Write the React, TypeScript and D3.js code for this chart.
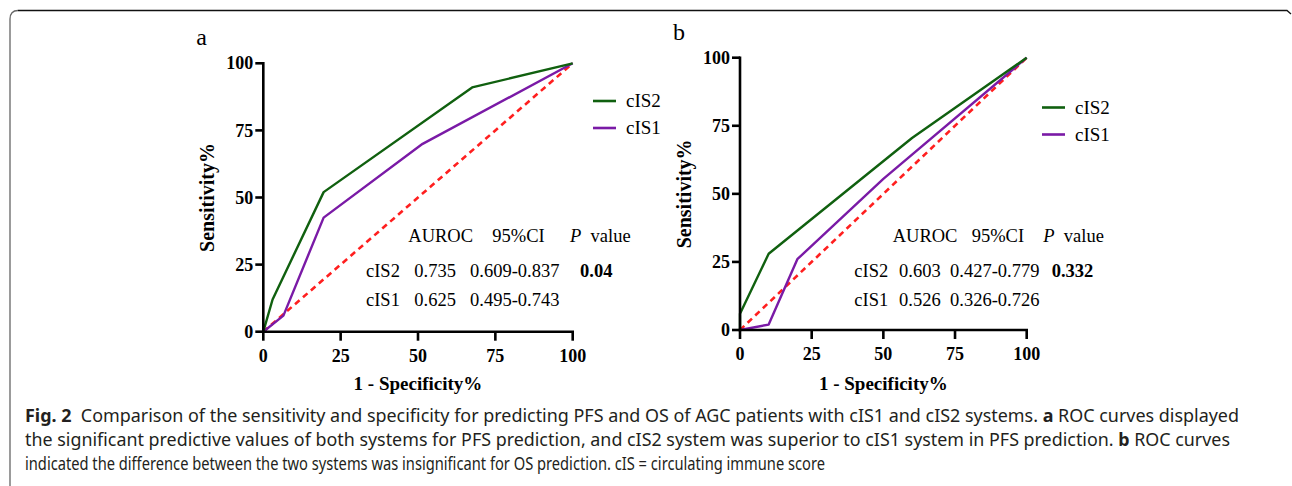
import * as d3 from 'd3'

// ── data ──
const xTicks = [0, 25, 50, 75, 100]
const yTicks = [0, 25, 50, 75, 100]
const seriesNames = ['cIS2', 'cIS1']

// panel a (PFS)
const aCis2X = [0, 3, 19.5, 67.5, 100]
const aCis2Y = [0, 12, 52, 91, 100]
const aCis1X = [0, 6.5, 19.5, 51.5, 100]
const aCis1Y = [0, 6, 42.5, 70, 100]
const aRows = [
  ['cIS2', '0.735', '0.609-0.837', '0.04'],
  ['cIS1', '0.625', '0.495-0.743', ''],
]

// panel b (OS)
const bCis2X = [0, 0, 10, 60, 100]
const bCis2Y = [0, 6, 28, 70.5, 100]
const bCis1X = [0, 10, 20, 50, 100]
const bCis1Y = [0, 2, 26, 55.5, 100]
const bRows = [
  ['cIS2', '0.603', '0.427-0.779', '0.332'],
  ['cIS1', '0.526', '0.326-0.726', ''],
]

const refX = [0, 100]
const refY = [0, 100]

const captionLines = [
  [['Fig. 2', true], ['  Comparison of the sensitivity and specificity for predicting PFS and OS of AGC patients with cIS1 and cIS2 systems. ', false], ['a', true], [' ROC curves displayed', false]],
  [['the significant predictive values of both systems for PFS prediction, and cIS2 system was superior to cIS1 system in PFS prediction. ', false], ['b', true], [' ROC curves', false]],
  [['indicated the difference between the two systems was insignificant for OS prediction. cIS = circulating immune score', false]],
] as [string, boolean][][]

const GREEN = '#10600f'
const PURPLE = '#7a1aa6'
const RED = '#ff1f1f'
const SERIF = '"Liberation Serif", "Times New Roman", serif'
const SANS = '"Noto Sans", "Open Sans", sans-serif'

type PanelProps = {
  label: string
  left: number; right: number; top: number; bottom: number
  cis2: [number[], number[]]
  cis1: [number[], number[]]
  rows: string[][]
  legend: { x: number; y: number }
  cols: { name: number; auroc: number; ci: number; p: number; hAuroc: number; hCi: number; hP: number }
  tableY: [number, number, number]
}

function Panel(p: PanelProps) {
  const x = d3.scaleLinear().domain([0, 100]).range([p.left, p.right])
  const y = d3.scaleLinear().domain([0, 100]).range([p.bottom, p.top])
  const line = d3.line<[number, number]>().x(d => x(d[0])).y(d => y(d[1]))
  const zip = (xs: number[], ys: number[]) => xs.map((v, i) => [v, ys[i]] as [number, number])
  const cols = [GREEN, PURPLE]
  return (
    <g>
      <text x={p.left - 67} y={p.top - 18} fontFamily={SERIF} fontSize={24}>{p.label}</text>

      {/* curves */}
      <path d={line(zip(refX, refY)) || ''} fill="none" stroke={RED} strokeWidth={2.6} strokeDasharray="6,4.5" />
      <path d={line(zip(p.cis1[0], p.cis1[1])) || ''} fill="none" stroke={PURPLE} strokeWidth={2.4} strokeLinejoin="round" />
      <path d={line(zip(p.cis2[0], p.cis2[1])) || ''} fill="none" stroke={GREEN} strokeWidth={2.4} strokeLinejoin="round" />

      {/* axes */}
      <g stroke="#000" strokeWidth={2.6}>
        <line x1={p.left} x2={p.left} y1={p.top - 1.3} y2={p.bottom + 1.3} />
        <line x1={p.left - 1.3} x2={p.right + 1.3} y1={p.bottom} y2={p.bottom} />
        {yTicks.map(t => <line key={'y' + t} x1={p.left - 8} x2={p.left} y1={y(t)} y2={y(t)} />)}
        {xTicks.map(t => <line key={'x' + t} x1={x(t)} x2={x(t)} y1={p.bottom} y2={p.bottom + 9} />)}
      </g>
      <g fontFamily={SERIF} fontWeight="bold" fontSize={18}>
        {yTicks.map(t => (
          <text key={'yl' + t} x={p.left - 10} y={y(t)} dy="0.34em" textAnchor="end">{t}</text>
        ))}
        {xTicks.map(t => (
          <text key={'xl' + t} x={x(t)} y={p.bottom + 30} textAnchor="middle">{t}</text>
        ))}
      </g>
      <text x={(p.left + p.right) / 2} y={390} textAnchor="middle" fontFamily={SERIF} fontWeight="bold" fontSize={19}>1 - Specificity%</text>
      <text transform={`translate(${p.left - 49},${(p.top + p.bottom) / 2}) rotate(-90)`} textAnchor="middle"
        fontFamily={SERIF} fontWeight="bold" fontSize={20}>Sensitivity%</text>

      {/* legend */}
      {seriesNames.map((n, i) => (
        <g key={n}>
          <line x1={p.legend.x} x2={p.legend.x + 23} y1={p.legend.y + i * 27} y2={p.legend.y + i * 27} stroke={cols[i]} strokeWidth={2.6} />
          <text x={p.legend.x + 33} y={p.legend.y + i * 27} dy="0.33em" fontFamily={SERIF} fontSize={19}>{n}</text>
        </g>
      ))}

      {/* AUROC table */}
      <g fontFamily={SERIF} fontSize={18.5}>
        <text x={p.left + p.cols.hAuroc} y={p.tableY[0]}>AUROC</text>
        <text x={p.left + p.cols.hCi} y={p.tableY[0]}>95%CI</text>
        <text x={p.left + p.cols.hP} y={p.tableY[0]}><tspan fontStyle="italic">P</tspan>{'\u00a0\u00a0value'}</text>
        {p.rows.map((r, i) => (
          <g key={r[0]}>
            <text x={p.left + p.cols.name} y={p.tableY[i + 1]}>{r[0]}</text>
            <text x={p.left + p.cols.auroc} y={p.tableY[i + 1]}>{r[1]}</text>
            <text x={p.left + p.cols.ci} y={p.tableY[i + 1]}>{r[2]}</text>
            <text x={p.left + p.cols.p} y={p.tableY[i + 1]} fontWeight="bold">{r[3]}</text>
          </g>
        ))}
      </g>
    </g>
  )
}

export default function App() {
  const lineW = [1214, 1205, 800]
  return (
    <svg width={1292} height={486} style={{ position: 'absolute', left: 0, top: 0, background: '#fff' }}>
      {/* frame */}
      <path d="M 18 10.5 L 1287 10.5 L 1291 14" fill="none" stroke="#111" strokeWidth={1.3} />
      <path d="M 10 488 L 10 19 Q 10 10.5 18 10.5" fill="none" stroke="#666" strokeWidth={1.3} />

      <Panel label="a" left={263.3} right={572.7} top={63.3} bottom={331.7}
        cis2={[aCis2X, aCis2Y]} cis1={[aCis1X, aCis1Y]} rows={aRows}
        legend={{ x: 593, y: 101 }}
        cols={{ name: 102.7, auroc: 151, ci: 206.7, p: 316.7, hAuroc: 145, hCi: 229, hP: 306.7 }}
        tableY={[241.7, 276.7, 305.7]} />
      <Panel label="b" left={740} right={1026.7} top={57.7} bottom={330}
        cis2={[bCis2X, bCis2Y]} cis1={[bCis1X, bCis1Y]} rows={bRows}
        legend={{ x: 1042, y: 107.5 }}
        cols={{ name: 114.3, auroc: 159, ci: 210, p: 311.7, hAuroc: 152.7, hCi: 231.7, hP: 303.3 }}
        tableY={[241.7, 276.7, 306]} />

      {/* caption */}
      <g fontFamily={SANS} fontSize={17.5} fill="#231f20">
        {captionLines.map((ln, i) => (
          <text key={i} x={25} y={422 + i * 24} textLength={lineW[i]} lengthAdjust="spacingAndGlyphs" xmlSpace="preserve">
            {ln.map(([s, b], j) => <tspan key={j} fontWeight={b ? 'bold' : 'normal'}>{s}</tspan>)}
          </text>
        ))}
      </g>
    </svg>
  )
}
